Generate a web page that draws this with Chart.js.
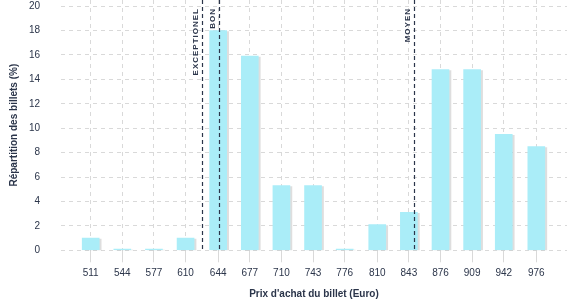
<!DOCTYPE html>
<html>
<head>
<meta charset="utf-8">
<script src="https://cdn.jsdelivr.net/npm/chart.js@4/dist/chart.umd.min.js"></script>
<style>
  html, body { margin: 0; padding: 0; background: #fff; }
  #wrap { width: 577px; height: 300px; }
</style>
</head>
<body>
<div id="wrap"><canvas id="chart"></canvas></div>
<script>
// 1. DONNEES
const prix = [511, 544, 577, 610, 644, 677, 710, 743, 776, 810, 843, 876, 909, 942, 976];
const repartition = [1.0, 0.1, 0.1, 1.0, 18.0, 15.9, 5.3, 5.3, 0.1, 2.1, 3.1, 14.8, 14.8, 9.5, 8.5];
const yTicks = [0, 2, 4, 6, 8, 10, 12, 14, 16, 18, 20];
const seuilsNoms = ['EXCEPTIONEL', 'BON', 'MOYEN'];
const seuilsPrix = [627, 645, 848];

const txt = '#2b354a';
const gridCol = '#d9d9d9';
const police = '"Liberation Sans", Arial, sans-serif';

// 2. LIGNES DE SEUIL (pointillés + libellés verticaux)
const seuilsPlugin = {
  id: 'seuils',
  afterDatasetsDraw(chart) {
    const ctx = chart.ctx, x = chart.scales.x, area = chart.chartArea;
    ctx.save();
    seuilsPrix.forEach((v, i) => {
      const px = Math.round(x.getPixelForValue(v)) + 0.5;
      ctx.strokeStyle = txt;
      ctx.lineWidth = 1.2;
      ctx.setLineDash([4, 3]);
      ctx.beginPath();
      ctx.moveTo(px, area.top);
      ctx.lineTo(px, area.bottom);
      ctx.stroke();

      ctx.save();
      ctx.translate(px - 7, 8);
      ctx.rotate(-Math.PI / 2);
      ctx.fillStyle = txt;
      ctx.font = 'bold 8px ' + police;
      ctx.letterSpacing = '1px';
      ctx.textAlign = 'right';
      ctx.textBaseline = 'middle';
      ctx.fillText(seuilsNoms[i], 0, 0);
      ctx.restore();
    });
    ctx.restore();
  }
};

// 3. OMBRE LEGERE DES BARRES
const ombrePlugin = {
  id: 'ombre',
  beforeDatasetsDraw(chart) {
    const ctx = chart.ctx;
    ctx.save();
    ctx.shadowColor = 'rgba(0,0,0,0.13)';
    ctx.shadowOffsetX = 2;
    ctx.shadowOffsetY = 1;
    ctx.shadowBlur = 0;
  },
  afterDatasetsDraw(chart) { chart.ctx.restore(); }
};

// 4. GRAPHIQUE
new Chart(document.getElementById('chart'), {
  type: 'bar',
  data: {
    datasets: [{
      data: prix.map((p, i) => ({ x: p, y: repartition[i] })),
      backgroundColor: '#aaedf8',
      borderWidth: 0,
      barThickness: 17
    }]
  },
  options: {
    responsive: true,
    maintainAspectRatio: false,
    animation: false,
    layout: { padding: { left: 0, right: 10, top: 0, bottom: 0 } },
    plugins: { legend: { display: false }, tooltip: { enabled: false } },
    scales: {
      x: {
        type: 'linear',
        offset: false,
        min: 480,
        max: 1008,
        afterBuildTicks: (s) => { s.ticks = prix.map(v => ({ value: v })); },
        afterFit: (s) => { s.height = 49.7; s.paddingLeft = 0; s.paddingRight = 0; },
        grid: { offset: false, color: gridCol, tickLength: 12, tickColor: gridCol, drawTicks: true },
        border: { display: false, dash: [4, 4] },
        ticks: { color: txt, padding: 5, maxRotation: 0, autoSkip: false, font: { family: police, size: 10 }, callback: (v) => v },
        title: { display: true, text: "Prix d'achat du billet (Euro)", color: txt, padding: { top: 4, bottom: 0 }, font: { family: police, size: 10, weight: 'bold' } }
      },
      y: {
        min: 0,
        max: 20.5,
        afterBuildTicks: (s) => { s.ticks = yTicks.map(v => ({ value: v })); },
        afterFit: (s) => { s.width = 61; s.paddingTop = 0; s.paddingBottom = 0; },
        grid: { color: gridCol, drawTicks: false },
        border: { display: false, dash: [4, 4] },
        ticks: { color: txt, padding: 21, font: { family: police, size: 10 } },
        title: { display: true, text: 'Répartition des billets (%)', color: txt, padding: { top: 8, bottom: 0 }, font: { family: police, size: 10, weight: 'bold' } }
      }
    }
  },
  plugins: [ombrePlugin, seuilsPlugin]
});
</script>
</body>
</html>
